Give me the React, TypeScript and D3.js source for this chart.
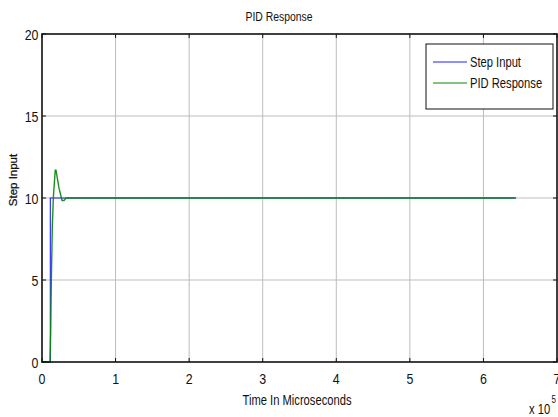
import React from "react";
import * as d3 from "d3";

// Step input: time in microseconds, amplitude
const stepTime = [0, 11300, 11300, 644000];
const stepValue = [0, 0, 10, 10];

// PID controller response: time in microseconds, amplitude
const pidTime = [0, 10900, 11800, 12700, 14000, 15400, 18000, 19000, 23100, 27200, 29900, 32700, 644000];
const pidValue = [0, 0, 1.8, 5, 8.2, 10, 11.7, 11.7, 10.6, 9.85, 9.85, 10, 10];

const xTicks = [0, 1, 2, 3, 4, 5, 6, 7];
const yTicks = [0, 5, 10, 15, 20];

const legendLabels = ["Step Input", "PID Response"];
const seriesColors = ["#2020ff", "#0a850a"];

const W = 558;
const H = 417;
const M = { left: 42, right: 557, top: 34, bottom: 362 };
const SANS = "'Liberation Sans', Arial, sans-serif";
const SQUEEZE = 0.8;

type NTProps = {
  x: number;
  y: number;
  size: number;
  anchor?: "start" | "middle" | "end";
  children: React.ReactNode;
};

// Condensed Helvetica-like text, horizontally compressed
function NText({ x, y, size, anchor = "start", children }: NTProps) {
  return (
    <text
      transform={`translate(${x},${y}) scale(${SQUEEZE},1)`}
      textAnchor={anchor}
      fontFamily={SANS}
      fontSize={size}
      fill="#111"
    >
      {children}
    </text>
  );
}

export default function App() {
  const x = d3.scaleLinear().domain([0, 7e5]).range([M.left, M.right]);
  const y = d3.scaleLinear().domain([0, 20]).range([M.bottom, M.top]);

  const line = d3
    .line<[number, number]>()
    .x((d) => x(d[0]))
    .y((d) => y(d[1]));

  const stepPts = stepTime.map((t, i) => [t, stepValue[i]] as [number, number]);
  const pidPts = pidTime.map((t, i) => [t, pidValue[i]] as [number, number]);

  const tickLen = 4;
  const lgX = 426;
  const lgY = 44;
  const lgW = 127;
  const lgH = 65;

  return (
    <svg
      width={W}
      height={H}
      style={{ position: "absolute", left: 0, top: 0, background: "#fff" }}
    >
      <rect x={0} y={0} width={W} height={H} fill="#fff" />
      {/* grid */}
      {xTicks
        .filter((t) => t > 0 && t < 7)
        .map((t) => (
          <line
            key={"gx" + t}
            x1={x(t * 1e5)}
            x2={x(t * 1e5)}
            y1={M.top}
            y2={M.bottom}
            stroke="#bdbdbd"
            strokeWidth={1}
          />
        ))}
      {yTicks
        .filter((t) => t > 0 && t < 20)
        .map((t) => (
          <line
            key={"gy" + t}
            x1={M.left}
            x2={M.right}
            y1={y(t)}
            y2={y(t)}
            stroke="#bdbdbd"
            strokeWidth={1}
          />
        ))}

      {/* series */}
      <path d={line(stepPts) ?? ""} fill="none" stroke={seriesColors[0]} strokeWidth={1.1} />
      <path
        d={line(pidPts) ?? ""}
        fill="none"
        stroke={seriesColors[1]}
        strokeWidth={1.4}
        strokeOpacity={0.92}
      />

      {/* axes box */}
      <rect
        x={M.left}
        y={M.top}
        width={M.right - M.left}
        height={M.bottom - M.top}
        fill="none"
        stroke="#111"
        strokeWidth={1.6}
      />
      {/* tick marks */}
      {xTicks.map((t) => (
        <g key={"tx" + t}>
          <line x1={x(t * 1e5)} x2={x(t * 1e5)} y1={M.bottom} y2={M.bottom - tickLen} stroke="#111" />
          <line x1={x(t * 1e5)} x2={x(t * 1e5)} y1={M.top} y2={M.top + tickLen} stroke="#111" />
        </g>
      ))}
      {yTicks.map((t) => (
        <g key={"ty" + t}>
          <line x1={M.left} x2={M.left + tickLen} y1={y(t)} y2={y(t)} stroke="#111" />
          <line x1={M.right} x2={M.right - tickLen} y1={y(t)} y2={y(t)} stroke="#111" />
        </g>
      ))}

      {/* tick labels */}
      {xTicks.map((t) => (
        <NText key={"lx" + t} x={x(t * 1e5)} y={384} size={15.5} anchor="middle">
          {t}
        </NText>
      ))}
      {yTicks.map((t) => (
        <NText key={"ly" + t} x={38.5} y={y(t) + 5.5} size={15.5} anchor="end">
          {t}
        </NText>
      ))}

      {/* exponent */}
      <NText x={529} y={414} size={14}>
        x 10
      </NText>
      <NText x={551.5} y={403} size={10}>
        5
      </NText>

      {/* title and axis labels */}
      <NText x={279} y={21} size={13} anchor="middle">
        PID Response
      </NText>
      <NText x={297} y={405} size={14} anchor="middle">
        Time In Microseconds
      </NText>
      <text
        transform="translate(17,180) rotate(-90)"
        textAnchor="middle"
        fontFamily={SANS}
        fontSize={11.5}
        fill="#111"
        stroke="#111"
        strokeWidth={0.25}
      >
        Step Input
      </text>

      {/* legend */}
      <rect x={lgX} y={lgY} width={lgW} height={lgH} fill="#fff" stroke="#111" strokeWidth={1} />
      {legendLabels.map((lab, i) => (
        <g key={lab}>
          <line
            x1={433}
            x2={467}
            y1={62 + i * 21}
            y2={62 + i * 21}
            stroke={seriesColors[i]}
            strokeWidth={1.1}
          />
          <NText x={470} y={67 + i * 21} size={14}>
            {lab}
          </NText>
        </g>
      ))}
    </svg>
  );
}
